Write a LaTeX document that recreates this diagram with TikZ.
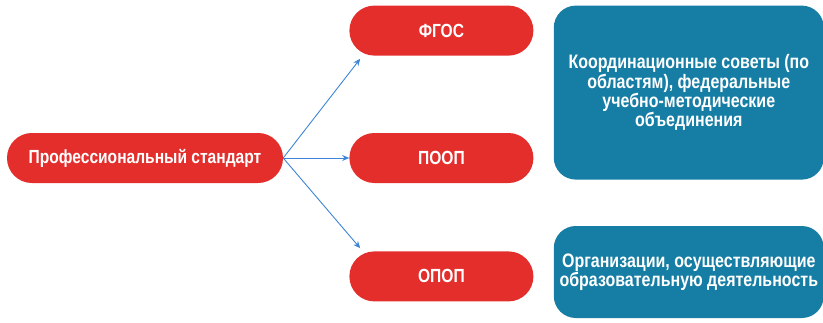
\documentclass[tikz,border=0pt]{standalone}
\usepackage{fontspec}
\setmainfont{Liberation Sans}[FakeStretch=0.82]
\usetikzlibrary{positioning,arrows.meta}

\definecolor{stdred}{HTML}{E32E2C}
\definecolor{orgblue}{HTML}{167EA4}
\definecolor{linkblue}{HTML}{3D84D8}

\tikzset{
  pill/.style={fill=stdred, text=white, rounded corners=24.9pt,
    minimum width=184pt, minimum height=50pt, inner sep=0pt,
    font=\bfseries\fontsize{19}{22}\selectfont},
  orgbox/.style={fill=orgblue, text=white, rounded corners=22pt,
    minimum width=270pt, inner sep=0pt, align=center,
    font=\bfseries\fontsize{19.5}{18}\selectfont},
  link/.style={draw=linkblue, line width=0.9pt, -{Stealth[length=7pt,width=6pt]}}
}

\begin{document}
\begin{tikzpicture}[x=1pt,y=-1pt]
      \useasboundingbox (0,0) rectangle (823,322);

      \node[pill, minimum width=276pt] (std) at (145,158) {Профессиональный стандарт};

      \node[pill, right=66pt of std] (poop) {ПООП};
      \node[pill, above=77pt of poop] (fgos) {ФГОС};
      \node[pill, below=68pt of poop] (opop) {ОПОП};

      \node[orgbox, minimum height=174pt, right=20pt of fgos.north east, anchor=north west] (council)
        {Координационные советы (по\\ областям), федеральные\\ учебно-методические\\ объединения};
      \node[orgbox, minimum height=92pt, below=46pt of council] (orgs)
        {Организации, осуществляющие\\ образовательную деятельность};

      \draw[link] (std.east) -- ([xshift=11pt,yshift=-3pt]fgos.south west);
      \draw[link] (std.east) -- (poop.west);
      \draw[link] (std.east) -- ([xshift=11pt,yshift=3pt]opop.north west);
    \end{tikzpicture}
\end{document}
